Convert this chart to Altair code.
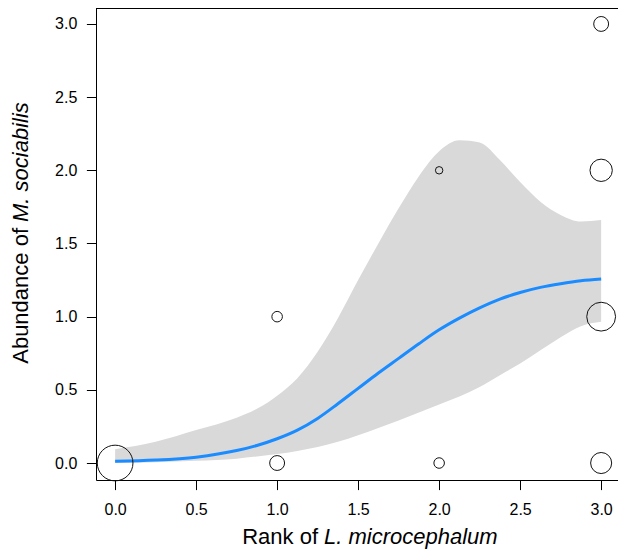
import altair as alt
import pandas as pd

# Observed points (rank of L. microcephalum vs abundance of M. sociabilis); n = number of plots
pt_x = [0, 1, 2, 3, 1, 3, 2, 3, 3]
pt_y = [0, 0, 0, 0, 1, 1, 2, 2, 3]
pt_n = [23, 4, 2, 8, 2, 15, 1, 9, 4]

# Fitted curve with confidence band
fit_x = [0, 0.25, 0.5, 0.75, 0.875, 1.0, 1.125, 1.25, 1.375, 1.5, 1.625, 1.75, 1.875, 2.0, 2.125,
         2.25, 2.375, 2.5, 2.625, 2.75, 2.875, 3.0]
fit_y = [0.012, 0.02, 0.04, 0.085, 0.12, 0.166, 0.225, 0.305, 0.405, 0.51, 0.615, 0.715, 0.815,
         0.91, 0.99, 1.06, 1.12, 1.165, 1.20, 1.225, 1.245, 1.257]
fit_lo = [0.0, 0.005, 0.015, 0.03, 0.045, 0.062, 0.083, 0.11, 0.145, 0.19, 0.24, 0.29, 0.345, 0.40,
          0.455, 0.52, 0.60, 0.68, 0.77, 0.86, 0.935, 0.965]
fit_hi = [0.094, 0.145, 0.225, 0.31, 0.37, 0.46, 0.58, 0.76, 0.99, 1.25, 1.50, 1.74, 1.96, 2.13,
          2.205, 2.19, 2.07, 1.92, 1.786, 1.695, 1.65, 1.66]

tick_vals = [0, 0.5, 1.0, 1.5, 2.0, 2.5, 3.0]

FONT = "Liberation Sans"
W, H = 522, 472

pts = pd.DataFrame({"x": pt_x, "y": pt_y, "n": pt_n})
fit = pd.DataFrame({"x": fit_x, "y": fit_y, "lo": fit_lo, "hi": fit_hi})

xscale = alt.Scale(domain=[-0.118, 3.104], nice=False, zero=False)
yscale = alt.Scale(domain=[-0.116, 3.109], nice=False, zero=False)

xaxis = alt.Axis(values=tick_vals, format=".1f", title=None, grid=False,
                 domainColor="black", domainWidth=1, tickColor="black", tickWidth=1,
                 tickSize=9.6, labelFont=FONT, labelFontSize=16, labelColor="black",
                 labelPadding=12, labelFlush=False)
yaxis = alt.Axis(values=tick_vals, format=".1f", title=None, grid=False,
                 domainColor="black", domainWidth=1, tickColor="black", tickWidth=1,
                 tickSize=9.6, labelFont=FONT, labelFontSize=16, labelColor="black",
                 labelPadding=9.6, labelFlush=False)

band = alt.Chart(fit).mark_area(color="#D9D9D9", opacity=1, interpolate="monotone").encode(
    x=alt.X("x:Q", scale=xscale, axis=xaxis),
    y=alt.Y("lo:Q", scale=yscale, axis=yaxis),
    y2="hi:Q",
)

line = alt.Chart(fit).mark_line(color="#1A8CFF", strokeWidth=3, interpolate="monotone").encode(
    x=alt.X("x:Q", scale=xscale),
    y=alt.Y("y:Q", scale=yscale),
)

points = alt.Chart(pts).mark_point(shape="circle", filled=False, stroke="#111111",
                                   strokeWidth=1, opacity=1).encode(
    x=alt.X("x:Q", scale=xscale),
    y=alt.Y("y:Q", scale=yscale),
    size=alt.Size("n:Q", scale=alt.Scale(domain=[0, 23], range=[0, 1274]), legend=None),
)

top_rule = alt.Chart(pd.DataFrame({"a": [0]})).mark_rule(color="black", strokeWidth=1).encode(
    x=alt.value(0), x2=alt.value(W), y=alt.value(0.5)
)

one = pd.DataFrame({"a": [0]})
xt1 = alt.Chart(one).mark_text(text="Rank of", font=FONT, fontSize=22, align="right",
                               baseline="alphabetic", color="black").encode(
    x=alt.value(222), y=alt.value(536))
xt2 = alt.Chart(one).mark_text(text="L. microcephalum", font=FONT, fontSize=22, fontStyle="italic",
                               align="left", baseline="alphabetic", color="black").encode(
    x=alt.value(228), y=alt.value(536))
yt1 = alt.Chart(one).mark_text(text="Abundance of", font=FONT, fontSize=22, angle=270,
                               align="right", baseline="alphabetic", color="black").encode(
    x=alt.value(-68), y=alt.value(220))
yt2 = alt.Chart(one).mark_text(text="M. sociabilis", font=FONT, fontSize=22, fontStyle="italic",
                               angle=270, align="left", baseline="alphabetic", color="black").encode(
    x=alt.value(-68), y=alt.value(214))

chart = alt.layer(band, line, points, top_rule, xt1, xt2, yt1, yt2).properties(
    width=W, height=H,
    padding={"left": 88, "top": 0, "right": 0, "bottom": 70},
    autosize=alt.AutoSizeParams(type="none"),
    background="white",
).configure_view(stroke=None)

chart.save("out.html", embed_options={"renderer": "svg", "actions": False})
